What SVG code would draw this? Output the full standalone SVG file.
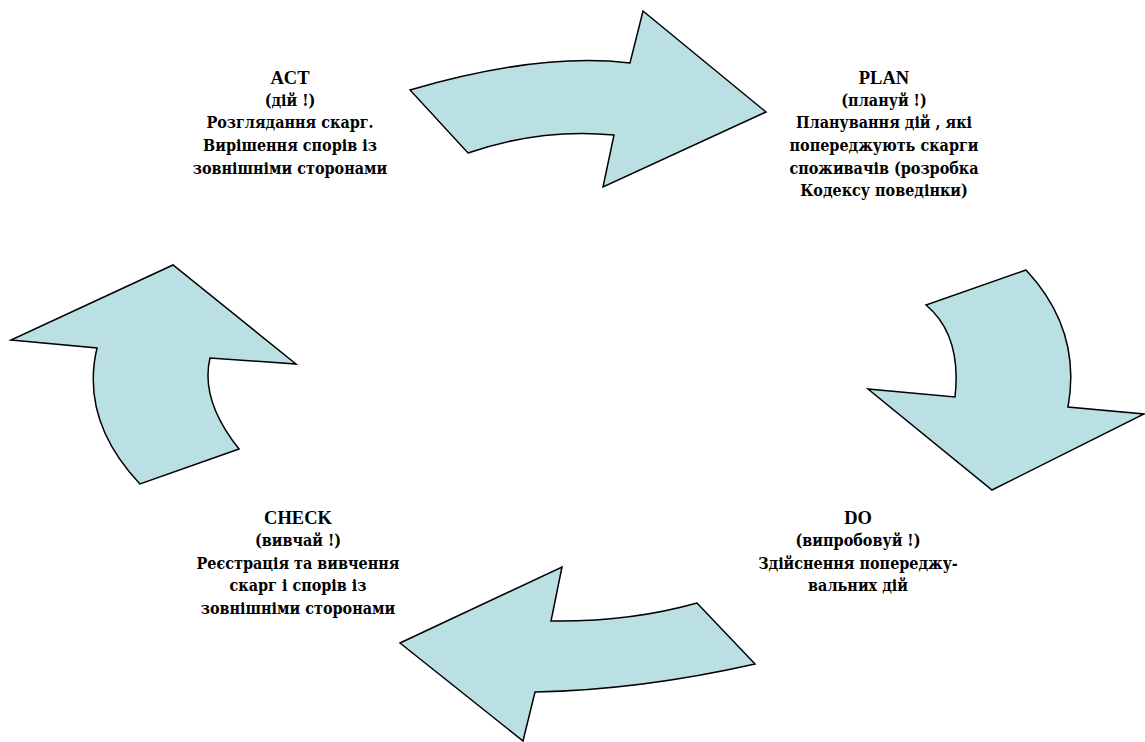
<svg xmlns="http://www.w3.org/2000/svg" width="1145" height="742" viewBox="0 0 1145 742">
<style>
.arrow{fill:#BAE0E3;stroke:#000;stroke-width:1.5;stroke-linejoin:miter}
.h{font-family:"Liberation Serif",serif;font-size:18.5px}
</style>
<rect width="1145" height="742" fill="#fff"/>
<g id="connectors">
<path id="arrow-act-plan" class="arrow" d="M410,90 Q540,52 630,63 L643,11 L766,112 L603,187 L614,135 Q540,128 468,153 Z"/>
<path id="arrow-plan-do" class="arrow" d="M1026,270 L926,305 Q962,335 955,397 L868,389 L992,490 L1144,414 L1068,407 Q1082,330 1026,270 Z"/>
<path id="arrow-do-check" class="arrow" d="M755,664 L697,603 Q630,622 551,621 L562,567 L400,643 L523,741 L535,692 Q640,690 755,664 Z"/>
<path id="arrow-check-act" class="arrow" d="M239,449 L140,484 Q80,420 97,348 L11,340 L173,265 L296,364 L210,358 Q200,400 239,449 Z"/>
</g>
<g font-family="DejaVu Serif, serif" font-stretch="condensed" font-weight="bold" font-size="16" fill="#000" text-anchor="middle">
<g id="node-act">
<text x="290" y="84" class="h">ACT</text>
<text x="290" y="106">(дій !)</text>
<text x="290" y="128">Розглядання скарг.</text>
<text x="290" y="151">Вирішення спорів із</text>
<text x="290" y="174">зовнішніми сторонами</text>
</g>
<g id="node-plan">
<text x="884" y="84" class="h">PLAN</text>
<text x="884" y="106">(плануй !)</text>
<text x="884" y="128">Планування дій , які</text>
<text x="884" y="151">попереджують скарги</text>
<text x="884" y="174">споживачів (розробка</text>
<text x="884" y="196">Кодексу поведінки)</text>
</g>
<g id="node-check">
<text x="298" y="524" class="h">CHECK</text>
<text x="298" y="546">(вивчай !)</text>
<text x="298" y="569">Реєстрація та вивчення</text>
<text x="298" y="591">скарг і спорів із</text>
<text x="298" y="614">зовнішніми сторонами</text>
</g>
<g id="node-do">
<text x="858" y="524" class="h">DO</text>
<text x="858" y="546">(випробовуй !)</text>
<text x="858" y="569">Здійснення попереджу-</text>
<text x="858" y="591">вальних дій</text>
</g>
</g>
</svg>
